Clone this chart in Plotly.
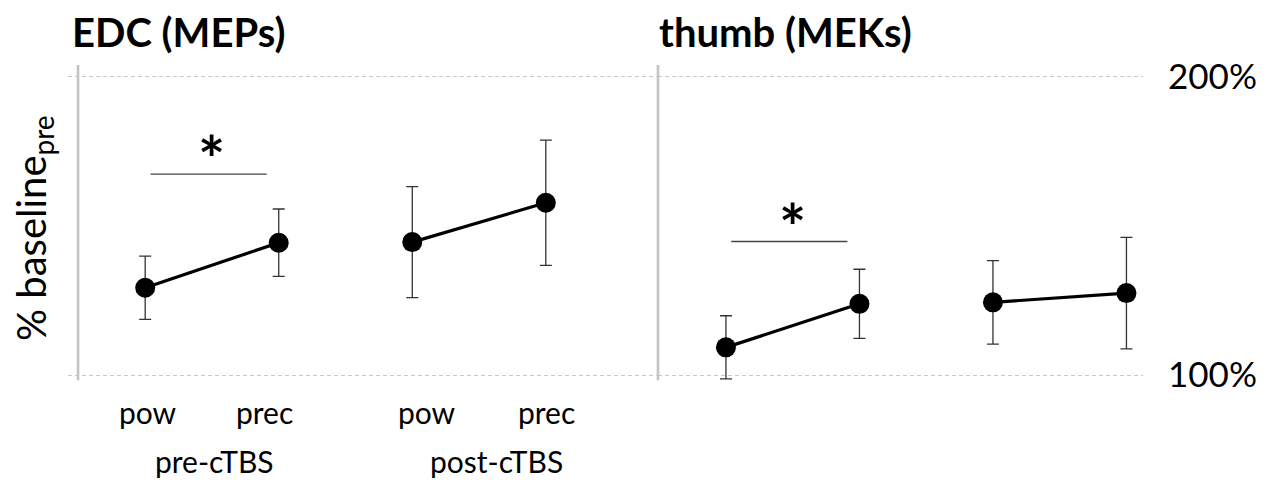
import plotly.graph_objects as go

# Conditions along the x axis (grip within each session)
grips = ["pow", "prec", "pow", "prec"]
sessions = ["pre-cTBS", "post-cTBS"]

# EDC MEP amplitudes, % of pre baseline (mean and error)
edc_mean = [129.3, 144.4, 144.6, 157.8]
edc_err = [10.6, 11.3, 18.6, 21.0]

# Thumb MEK amplitudes, % of pre baseline (mean and error)
thumb_mean = [109.3, 123.9, 124.4, 127.5]
thumb_err = [10.6, 11.6, 14.0, 18.7]

# Significant pow vs prec difference (pre-cTBS) in each panel
edc_sig_level = 167.4
thumb_sig_level = 144.8

y_ticks = [100, 200]
y_ticktext = ["100%", "200%"]

FONT = "Lato"
W, H = 1271, 480
ML, MR, MT, MB = 68, 128, 62, 90
plot_w = W - ML - MR
plot_h = H - MT - MB
split = (658 - ML) / plot_w


def paper_y(py):
    return (H - MB - py) / plot_h


fig = go.Figure()


def add_panel(mean, err, xa, ya):
    for idx in ([0, 1], [2, 3]):
        fig.add_trace(go.Scatter(
            x=idx, y=[mean[i] for i in idx],
            error_y=dict(type="data", array=[err[i] for i in idx],
                         color="#333333", thickness=1.3, width=6),
            mode="lines+markers",
            line=dict(color="black", width=3.2),
            marker=dict(color="black", size=20),
            xaxis=xa, yaxis=ya, showlegend=False, hoverinfo="skip",
        ))


add_panel(edc_mean, edc_err, "x", "y")
add_panel(thumb_mean, thumb_err, "x2", "y2")

shapes = []
annotations = []

# significance bars with asterisks
for xr, yr, lvl in (("x", "y", edc_sig_level), ("x2", "y2", thumb_sig_level)):
    shapes.append(dict(type="line", xref=xr, yref=yr, x0=0.04, x1=0.91,
                       y0=lvl, y1=lvl, line=dict(color="#444444", width=1.3)))
    annotations.append(dict(xref=xr, yref=yr, x=0.5, y=lvl, text="<b>*</b>",
                            showarrow=False, yanchor="bottom", yshift=-25,
                            font=dict(family=FONT, size=64, color="black")))

# grey panel separators
for xr, yr, xv in (("x domain", "y", 0.017), ("x2 domain", "y2", 0.0)):
    shapes.append(dict(type="line", xref=xr, yref=yr, x0=xv, x1=xv, y0=98.3, y1=204,
                       line=dict(color="#c4c4c4", width=2.6), layer="below"))

# grip labels under the EDC panel
grip_shift = [3, -14, 15, 1]
for i, g in enumerate(grips):
    annotations.append(dict(xref="x", yref="paper", x=i, y=paper_y(412),
                            xshift=grip_shift[i], text=g, showarrow=False,
                            yanchor="middle",
                            font=dict(family=FONT, size=30, color="black")))
# session labels
session_x = [0.5, 2.5]
session_shift = [3, 17]
for sx, sh, s in zip(session_x, session_shift, sessions):
    annotations.append(dict(xref="x", yref="paper", x=sx, y=paper_y(461),
                            xshift=sh, text=s, showarrow=False, yanchor="middle",
                            font=dict(family=FONT, size=30, color="black")))

# panel titles
for xr, shift, title in (("x domain", 2, "EDC (MEPs)"), ("x2 domain", -1, "thumb (MEKs)")):
    annotations.append(dict(xref=xr, yref="paper", x=0, xshift=shift,
                            y=paper_y(32), yanchor="middle", xanchor="left",
                            text="<b>" + title + "</b>", showarrow=False,
                            font=dict(family=FONT, size=40, color="black")))

# y axis title
annotations.append(dict(xref="paper", yref="paper", x=(33 - ML) / plot_w,
                        y=paper_y(228), textangle=-90,
                        text="% baseline<sub>pre</sub>", showarrow=False,
                        xanchor="center", yanchor="middle",
                        font=dict(family=FONT, size=40, color="black")))

grid = dict(range=[95, 205], tickvals=y_ticks, ticktext=y_ticktext,
            showgrid=True, gridcolor="#c8c8c8", gridwidth=1, griddash="4px,3px",
            zeroline=False, showline=False, ticks="")
xcommon = dict(showgrid=False, zeroline=False, showline=False,
               showticklabels=False, ticks="")

fig.update_layout(
    width=W, height=H,
    margin=dict(l=ML, r=MR, t=MT, b=MB),
    plot_bgcolor="white", paper_bgcolor="white",
    xaxis=dict(domain=[0, split], range=[-0.578, 3.84], anchor="y", **xcommon),
    xaxis2=dict(domain=[split, 1], range=[-0.509, 3.124], anchor="y2", **xcommon),
    yaxis=dict(anchor="x", showticklabels=False, **grid),
    yaxis2=dict(anchor="x2", side="right", showticklabels=True,
                ticklabelstandoff=24,
                tickfont=dict(family=FONT, size=35, color="black"), **grid),
    shapes=shapes,
    annotations=annotations,
    font=dict(family=FONT, color="black"),
)

fig.write_html("out.html")
